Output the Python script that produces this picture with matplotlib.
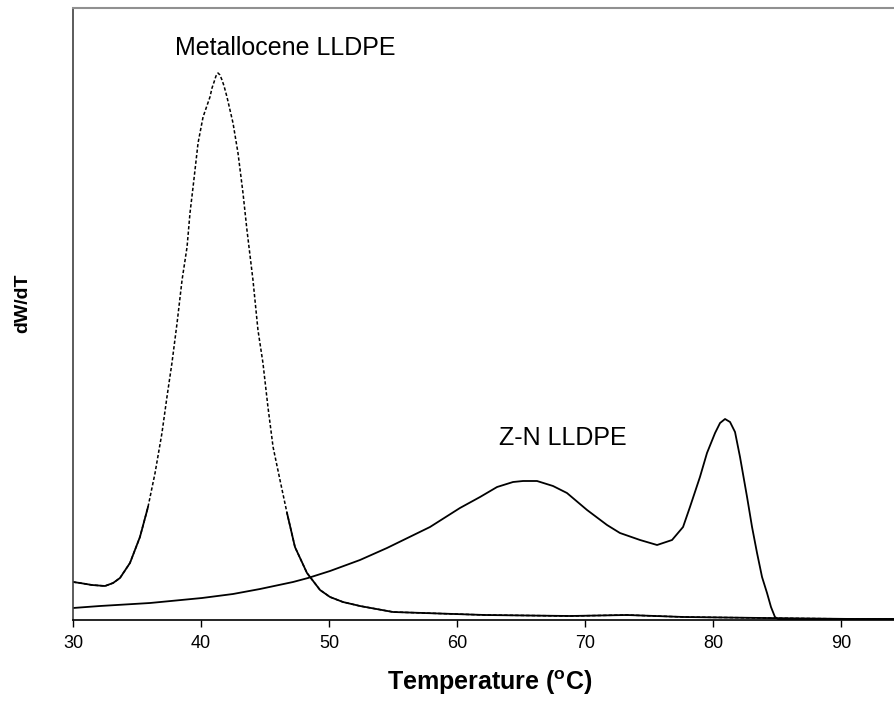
import numpy as np
import matplotlib
matplotlib.use("Agg")
import matplotlib.pyplot as plt

plt.rcParams['font.family'] = ['Liberation Sans', 'DejaVu Sans']
plt.rcParams['mathtext.fontset'] = 'custom'
plt.rcParams['mathtext.rm'] = 'Liberation Sans'
plt.rcParams['mathtext.bf'] = 'Liberation Sans:bold'

# Metallocene LLDPE (temperature in degC, dW/dT arbitrary units)
met_T = [30.0, 30.55, 31.48, 32.5, 33.13, 33.67, 34.45, 35.23, 35.86, 36.41, 36.95,
         37.34, 37.73, 38.13, 38.52, 38.91, 39.14, 39.38, 39.77, 40.16, 40.70, 40.86,
         41.02, 41.17, 41.33, 41.48, 41.64, 41.80, 42.03, 42.5, 42.89, 43.28, 43.59,
         44.06, 44.45, 44.84, 45.23, 45.63, 46.17, 46.72, 47.34, 48.28, 49.3, 50.08,
         51.09, 52.42, 55.0, 62.19, 68.83, 73.28, 77.73, 83.98, 91.09, 94.14]
met_W = [0.38, 0.37, 0.35, 0.34, 0.37, 0.42, 0.57, 0.83, 1.13, 1.47, 1.87,
         2.23, 2.57, 2.97, 3.40, 3.73, 4.07, 4.33, 4.77, 5.03, 5.23, 5.32,
         5.38, 5.44, 5.47, 5.45, 5.40, 5.34, 5.23, 4.97, 4.67, 4.27, 3.90,
         3.40, 2.90, 2.57, 2.13, 1.73, 1.40, 1.07, 0.73, 0.47, 0.30, 0.23,
         0.18, 0.14, 0.08, 0.05, 0.04, 0.05, 0.03, 0.02, 0.01, 0.01]

# Z-N LLDPE
zn_T = [30.0, 32.11, 36.02, 40.08, 42.5, 44.61, 47.19, 48.36, 50.08, 52.42, 54.53, 57.89,
        60.23, 61.80, 63.13, 64.38, 65.16, 66.25, 67.50, 68.59, 70.16, 71.72, 72.73,
        74.30, 75.63, 76.80, 77.66, 78.20, 78.98, 79.53, 80.16, 80.55, 80.94, 81.33,
        81.72, 82.11, 82.66, 83.05, 83.44, 83.83, 84.22, 84.53, 84.84, 85.08, 86.8,
        94.14]
zn_W = [0.12, 0.14, 0.17, 0.22, 0.26, 0.31, 0.38, 0.42, 0.49, 0.60, 0.72, 0.93,
        1.12, 1.23, 1.33, 1.38, 1.39, 1.39, 1.34, 1.27, 1.10, 0.95, 0.87,
        0.80, 0.75, 0.80, 0.93, 1.13, 1.43, 1.67, 1.87, 1.97, 2.01, 1.98,
        1.88, 1.63, 1.23, 0.93, 0.67, 0.43, 0.27, 0.13, 0.03, 0.01, 0.01,
        0.01]

xticks = [30, 40, 50, 60, 70, 80, 90]

fig = plt.figure(figsize=(8.94, 7.02), dpi=100)
ax = fig.add_axes([73/894, 1-620/702, 1-73/894, (620-8)/702])

mt = np.array(met_T); mw = np.array(met_W)
ax.plot(mt, mw, color='black', lw=1.1, dashes=(2.2, 1.4))
ax.plot(mt, np.ma.masked_where(mw > 1.15, mw), color='black', lw=1.3)
ax.plot(zn_T, zn_W, color='black', lw=1.3)

ax.set_xlim(30, 94.14)
ax.set_ylim(0, 6.12)
ax.set_xticks(xticks)
ax.set_yticks([])
ax.tick_params(axis='x', direction='out', length=5, width=1, labelsize=13, pad=6)

ax.spines['right'].set_visible(False)
ax.spines['top'].set_color('#909090')
ax.spines['top'].set_linewidth(1.5)
ax.spines['left'].set_color('#404040')
ax.spines['left'].set_linewidth(1.2)
ax.spines['bottom'].set_color('black')
ax.spines['bottom'].set_linewidth(1.2)

ax.text(37.97, 5.65, 'Metallocene LLDPE', fontsize=18, ha='left', va='baseline')
ax.text(63.28, 1.75, 'Z-N LLDPE', fontsize=18, ha='left', va='baseline')

fig.text(490/894, 1-683/702, r'Temperature ($^{\mathbf{o}}$C)', fontsize=18,
         fontweight='bold', ha='center', va='center')
fig.text(23/894, 1-303/702, 'dW/dT', fontsize=14, fontweight='bold',
         rotation=90, ha='center', va='center')

fig.savefig('out.png', dpi=100)
